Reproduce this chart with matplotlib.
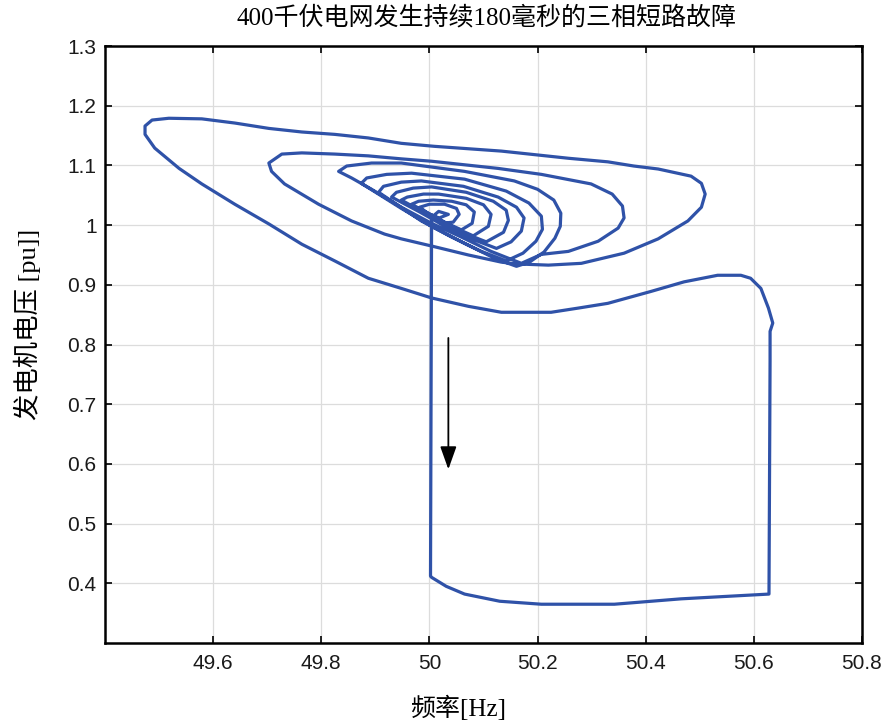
import matplotlib.pyplot as plt

# Trajectory of generator voltage vs frequency
freq = [50.004, 50.002, 50.004, 50.031, 50.065, 50.130, 50.207, 50.342, 50.465, 50.628,
        50.630, 50.630, 50.635, 50.627, 50.613, 50.594, 50.576, 50.533, 50.471, 50.410,
        50.330, 50.275, 50.225, 50.133, 50.072, 50.004, 49.948, 49.887, 49.825, 49.764,
        49.703, 49.640, 49.579, 49.537, 49.492, 49.474, 49.474, 49.487, 49.518, 49.579,
        49.640, 49.703, 49.764, 49.825, 49.887, 49.948, 50.009, 50.133, 50.257, 50.330,
        50.378, 50.423, 50.484, 50.503, 50.510, 50.503, 50.478, 50.423, 50.360, 50.281,
        50.220,
        50.161, 50.133, 50.072, 50.004, 49.948, 49.917, 49.856, 49.795, 49.732, 49.708,
        49.703, 49.727, 49.764, 49.825, 49.887, 49.948, 50.004, 50.127, 50.207, 50.299,
        50.338, 50.357, 50.360, 50.349, 50.312, 50.257, 50.207, 50.170,
        50.114, 50.059, 50.004, 49.948, 49.893, 49.856, 49.832, 49.847, 49.893, 49.948,
        50.065, 50.157, 50.200, 50.230, 50.243, 50.242, 50.232, 50.212, 50.185, 50.161,
        50.124, 50.068, 50.004, 49.948, 49.902, 49.874,
        49.884, 49.921, 49.967, 50.065, 50.142, 50.184, 50.207, 50.209, 50.197, 50.173,
        50.142,
        50.096, 50.041, 49.985, 49.939, 49.906,
        49.915, 49.948, 49.985, 50.063, 50.127, 50.161, 50.175, 50.170, 50.151, 50.124,
        50.078, 50.031, 49.982, 49.930,
        49.939, 49.970, 50.004, 50.068, 50.118, 50.142, 50.146, 50.137, 50.105,
        50.063, 50.022, 49.976, 49.948,
        49.959, 49.989, 50.017, 50.068, 50.100, 50.114, 50.109, 50.081,
        50.044, 50.007, 49.967,
        49.980, 50.007, 50.041, 50.068, 50.083, 50.079, 50.059,
        50.028, 49.994, 49.982,
        50.000, 50.028, 50.050, 50.055, 50.044, 50.022, 50.004, 50.017, 50.035, 50.018,
        50.004]
volt = [1.013, 0.412, 0.410, 0.395, 0.382, 0.370, 0.365, 0.365, 0.374, 0.382,
        0.772, 0.822, 0.836, 0.861, 0.894, 0.911, 0.916, 0.916, 0.905, 0.889,
        0.869, 0.861, 0.854, 0.854, 0.864, 0.878, 0.894, 0.911, 0.940, 0.968,
        1.002, 1.035, 1.069, 1.095, 1.129, 1.152, 1.166, 1.176, 1.179, 1.178,
        1.171, 1.162, 1.156, 1.152, 1.146, 1.137, 1.132, 1.124, 1.112, 1.106,
        1.099, 1.094, 1.082, 1.070, 1.052, 1.030, 1.007, 0.977, 0.953, 0.936,
        0.933,
        0.935, 0.938, 0.950, 0.965, 0.977, 0.985, 1.007, 1.035, 1.069, 1.090,
        1.104, 1.119, 1.121, 1.119, 1.116, 1.111, 1.107, 1.095, 1.085, 1.069,
        1.052, 1.032, 1.012, 0.995, 0.973, 0.956, 0.951, 0.936,
        0.956, 0.980, 1.003, 1.030, 1.060, 1.079, 1.090, 1.099, 1.104, 1.104,
        1.090, 1.074, 1.060, 1.042, 1.020, 0.998, 0.978, 0.955, 0.938, 0.931,
        0.943, 0.968, 0.998, 1.028, 1.054, 1.070,
        1.079, 1.085, 1.087, 1.077, 1.057, 1.037, 1.015, 0.993, 0.973, 0.953,
        0.940,
        0.956, 0.980, 1.007, 1.035, 1.055,
        1.065, 1.072, 1.074, 1.065, 1.047, 1.030, 1.012, 0.990, 0.972, 0.961,
        0.977, 0.997, 1.022, 1.047,
        1.055, 1.062, 1.064, 1.055, 1.040, 1.025, 1.008, 0.988, 0.972,
        0.987, 1.005, 1.028, 1.042,
        1.047, 1.052, 1.052, 1.045, 1.034, 1.018, 0.998, 0.982,
        0.997, 1.015, 1.035,
        1.040, 1.042, 1.040, 1.034, 1.022, 1.003, 0.992,
        1.005, 1.022, 1.030,
        1.035, 1.035, 1.028, 1.018, 1.005, 1.003, 1.013, 1.023, 1.018, 1.012,
        1.017]

x_ticks = [49.6, 49.8, 50.0, 50.2, 50.4, 50.6, 50.8]
x_tick_labels = ['49.6', '49.8', '50', '50.2', '50.4', '50.6', '50.8']
y_ticks = [0.4, 0.5, 0.6, 0.7, 0.8, 0.9, 1.0, 1.1, 1.2, 1.3]
y_tick_labels = ['0.4', '0.5', '0.6', '0.7', '0.8', '0.9', '1', '1.1', '1.2', '1.3']

# direction arrow (start, end)
arrow_x = 50.035
arrow_y = [0.811, 0.591]

title = '400千伏电网发生持续180毫秒的三相短路故障'
x_label = '频率[Hz]'
y_label = '发电机电压 [pu]]'

cjk_serif = ['Liberation Serif', 'Noto Sans CJK SC']
tick_font = ['Liberation Sans Narrow', 'Liberation Sans', 'DejaVu Sans']

fig = plt.figure(figsize=(8.87, 7.27), dpi=100)
ax = fig.add_axes([0.1184, 0.1155, 0.8534, 0.8212])

ax.plot(freq, volt, color='#2f52a8', linewidth=2.3, solid_joinstyle='round',
        solid_capstyle='round', zorder=3)

ax.annotate('', xy=(arrow_x, arrow_y[1]), xytext=(arrow_x, arrow_y[0]),
            arrowprops=dict(arrowstyle='-|>,head_length=1.4,head_width=0.5',
                            color='black', lw=1.3, shrinkA=0, shrinkB=0),
            zorder=4)

ax.set_xlim(49.4, 50.8)
ax.set_ylim(0.3, 1.3)
ax.set_xticks(x_ticks)
ax.set_xticklabels(x_tick_labels, family=tick_font, fontsize=15, color='#1a1a1a')
ax.set_yticks(y_ticks)
ax.set_yticklabels(y_tick_labels, family=tick_font, fontsize=15, color='#1a1a1a')
ax.tick_params(direction='in', length=5, width=1.2, top=True, right=True)
ax.tick_params(axis='x', pad=8)
ax.tick_params(axis='y', pad=6)
ax.grid(True, color='#dcdcdc', linewidth=0.9)
for s in ax.spines.values():
    s.set_linewidth(1.8)
    s.set_color('black')

fig.text(487 / 887, 1 - 18 / 727, title, family=cjk_serif, fontsize=18,
         ha='center', va='center')
fig.text(458 / 887, 1 - 708 / 727, x_label, family=cjk_serif, fontsize=18,
         ha='center', va='center')
fig.text(27 / 887, 1 - 324 / 727, y_label, family=cjk_serif, fontsize=19,
         ha='center', va='center', rotation=90)

fig.savefig('out.png', dpi=100)
